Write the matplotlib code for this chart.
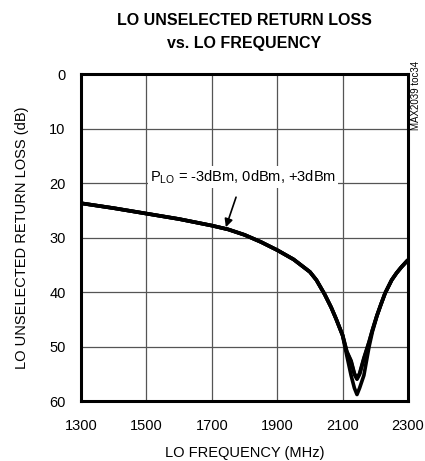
import matplotlib.pyplot as plt

# frequency points (MHz)
freq = [1300, 1400, 1500, 1600, 1700, 1750, 1800, 1850, 1900, 1950, 2000, 2020,
        2045, 2065, 2080, 2100, 2113, 2126, 2136, 2144, 2152, 2165, 2181, 2191,
        2205, 2217, 2230, 2250, 2265, 2280, 2300]
# return loss (dB) for PLO = -3dBm, 0dBm, +3dBm (they only split near the notch)
rl_m3 = [23.7, 24.6, 25.6, 26.6, 27.8, 28.5, 29.5, 30.8, 32.3, 34.0, 36.3, 37.8,
         40.4, 42.8, 44.9, 48.0, 51.7, 55.3, 57.6, 58.8, 57.6, 55.3, 50.0, 47.3,
         44.4, 42.3, 40.2, 37.8, 36.5, 35.4, 34.1]
rl_0 = [23.7, 24.6, 25.6, 26.6, 27.8, 28.5, 29.5, 30.8, 32.3, 34.0, 36.3, 37.8,
        40.4, 42.8, 44.9, 47.9, 51.0, 52.8, 55.1, 56.0, 55.1, 52.3, 49.2, 47.0,
        44.3, 42.3, 40.2, 37.8, 36.5, 35.4, 34.1]
rl_p3 = [23.7, 24.6, 25.6, 26.6, 27.8, 28.5, 29.5, 30.8, 32.3, 34.0, 36.3, 37.8,
         40.4, 42.8, 44.9, 47.9, 50.9, 52.6, 54.9, 55.8, 54.9, 52.1, 49.1, 47.0,
         44.3, 42.3, 40.2, 37.8, 36.5, 35.4, 34.1]

xticks = [1300, 1500, 1700, 1900, 2100, 2300]
yticks = [0, 10, 20, 30, 40, 50, 60]

plt.rcParams['font.family'] = ['Liberation Sans', 'DejaVu Sans']

fig = plt.figure(figsize=(4.25, 4.61), dpi=100)
ax = fig.add_axes([0.1906, 0.130, 0.7694, 0.7093])

for rl in (rl_m3, rl_0, rl_p3):
    ax.plot(freq, rl, color='black', lw=2.6, solid_joinstyle='round', solid_capstyle='butt')

ax.set_xlim(1300, 2300)
ax.set_ylim(60, 0)
ax.set_xticks(xticks)
ax.set_yticks(yticks)
ax.tick_params(axis='x', length=0, labelsize=10.5, pad=13)
ax.tick_params(axis='y', length=0, labelsize=10.5, pad=11)
ax.grid(True, color='#555555', lw=0.9)
ax.set_axisbelow(True)
for s in ax.spines.values():
    s.set_linewidth(2.2)

ax.set_xlabel('LO FREQUENCY (MHz)', fontsize=10.5, labelpad=9)
ax.set_ylabel('LO UNSELECTED RETURN LOSS (dB)', fontsize=10.5, labelpad=15)
fig.text(0.575, 0.972, 'LO UNSELECTED RETURN LOSS\nvs. LO FREQUENCY',
         ha='center', va='top', fontsize=11.5, fontweight='bold', linespacing=1.7)

ax.annotate('P$_{\\mathregular{LO}}$ = -3dBm, 0dBm, +3dBm', xy=(1743, 28.1), xytext=(1795, 18.9),
            ha='center', va='center', fontsize=10.5,
            bbox=dict(facecolor='white', edgecolor='none', pad=1.5),
            arrowprops=dict(arrowstyle='-|>', color='black', lw=1.2, mutation_scale=12,
                            shrinkA=7, shrinkB=0))

fig.text(0.979, 0.794, 'MAX2039 toc34', rotation=90, fontsize=7, ha='center', va='center')

fig.savefig('out.png', dpi=100)
